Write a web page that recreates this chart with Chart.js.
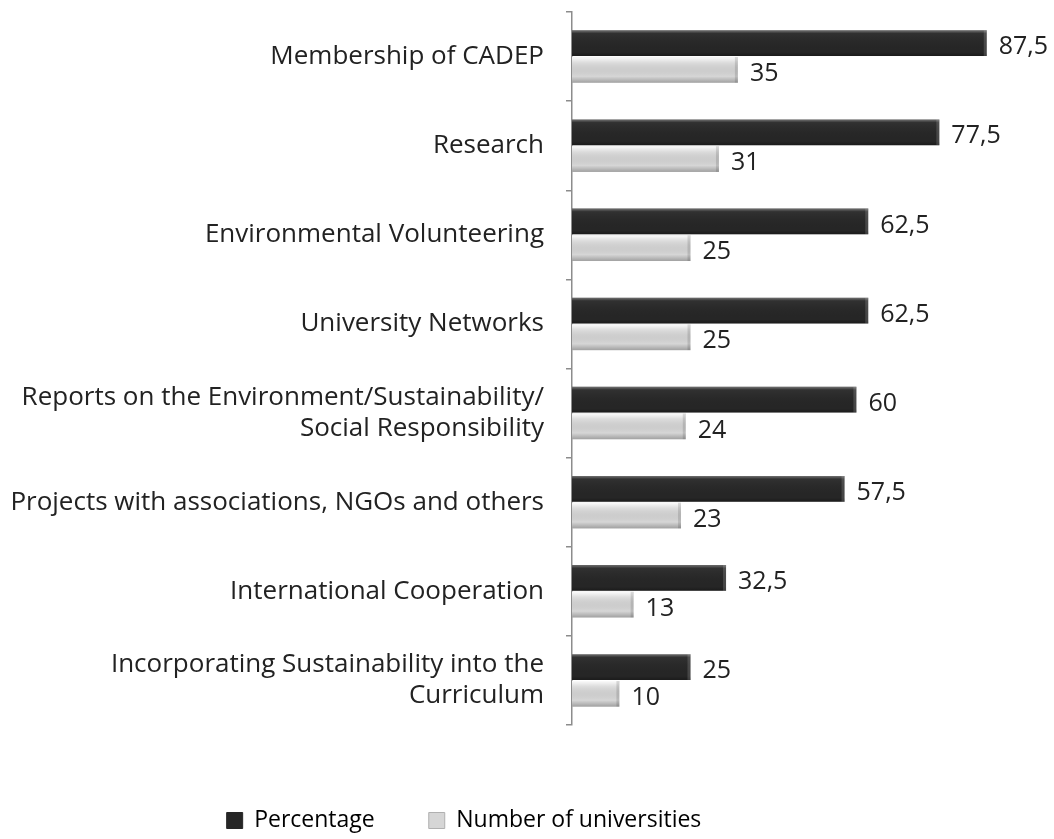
<!DOCTYPE html>
<html>
<head>
<meta charset="utf-8">
<script src="https://cdn.jsdelivr.net/npm/chart.js@4/dist/chart.umd.min.js"></script>
<style>
  html, body { margin: 0; padding: 0; background: #fff; }
  #wrap { width: 1054px; height: 839px; }
</style>
</head>
<body>
<div id="wrap"><canvas id="barChart"></canvas></div>
<script>
// categories (top to bottom)
const categories = [
  'Membership of CADEP',
  'Research',
  'Environmental Volunteering',
  'University Networks',
  ['Reports on the Environment/Sustainability/', 'Social Responsibility'],
  'Projects with associations, NGOs and others',
  'International Cooperation',
  ['Incorporating Sustainability into the', 'Curriculum']
];
const percentage = [87.5, 77.5, 62.5, 62.5, 60, 57.5, 32.5, 25];
const universities = [35, 31, 25, 25, 24, 23, 13, 10];

const FONT = '"Open Sans", sans-serif';

// shading on top of each bar so it looks bevelled
const bevel = {
  id: 'bevel',
  afterDatasetsDraw(chart) {
    const ctx = chart.ctx;
    chart.data.datasets.forEach((ds, i) => {
      chart.getDatasetMeta(i).data.forEach(bar => {
        const top = bar.y - bar.height / 2, h = bar.height;
        const left = bar.base, w = bar.x - bar.base;
        const g = ctx.createLinearGradient(0, top, 0, top + h);
        if (i === 0) {
          g.addColorStop(0, 'rgba(255,255,255,0.35)');
          g.addColorStop(0.12, 'rgba(255,255,255,0.05)');
          g.addColorStop(0.85, 'rgba(0,0,0,0)');
          g.addColorStop(1, 'rgba(0,0,0,0.3)');
        } else {
          g.addColorStop(0, 'rgba(255,255,255,0.9)');
          g.addColorStop(0.2, 'rgba(255,255,255,0.2)');
          g.addColorStop(0.75, 'rgba(0,0,0,0)');
          g.addColorStop(1, 'rgba(0,0,0,0.25)');
        }
        ctx.save();
        ctx.fillStyle = g;
        ctx.fillRect(left, top, w, h);
        // right end edge
        ctx.fillStyle = i === 0 ? 'rgba(255,255,255,0.15)' : 'rgba(0,0,0,0.12)';
        ctx.fillRect(bar.x - 3, top, 3, h);
        ctx.restore();
      });
    });
  }
};

// value labels with a decimal comma
const valueLabels = {
  id: 'valueLabels',
  afterDatasetsDraw(chart) {
    const ctx = chart.ctx;
    ctx.save();
    ctx.font = '25px ' + FONT;
    ctx.fillStyle = '#222';
    ctx.textBaseline = 'middle';
    chart.data.datasets.forEach((ds, i) => {
      chart.getDatasetMeta(i).data.forEach((bar, j) => {
        const txt = String(ds.data[j]).replace('.', ',');
        ctx.fillText(txt, bar.x + 12, bar.y + 4);
      });
    });
    ctx.restore();
  }
};

// legend sits a little left of centre and lower
const legendShift = {
  id: 'legendShift',
  afterLayout(chart) {
    const lg = chart.legend;
    lg.left -= 59; lg.right -= 59;
    lg.top += 7; lg.bottom += 7;
  }
};

const chart = new Chart(document.getElementById('barChart'), {
  type: 'bar',
  data: {
    labels: categories,
    datasets: [
      {
        label: 'Percentage',
        data: percentage,
        backgroundColor: '#262626',
        borderWidth: 0
      },
      {
        label: 'Number of universities',
        data: universities,
        backgroundColor: '#d6d6d6',
        borderWidth: 0
      }
    ]
  },
  options: {
    indexAxis: 'y',
    responsive: true,
    maintainAspectRatio: false,
    animation: false,
    layout: { padding: { top: 12, right: 8, left: 0, bottom: 4 } },
    datasets: {
      bar: { categoryPercentage: 0.6, barPercentage: 0.96 }
    },
    scales: {
      x: {
        min: 0,
        max: 100,
        grid: { display: false },
        border: { display: false },
        ticks: { display: false },
        afterFit(s) { s.height = 23; }
      },
      y: {
        grid: {
          offset: true,
          drawOnChartArea: false,
          tickLength: 6,
          color: '#8c8c8c',
          lineWidth: 1.5
        },
        border: { color: '#8c8c8c', width: 1.5 },
        ticks: {
          color: '#222',
          padding: 22,
          font: { family: FONT, size: 26 }
        },
        afterFit(s) {
          s.width = 572;
          s.paddingTop = 0;
          s.paddingBottom = 0;
        }
      }
    },
    plugins: {
      legend: {
        position: 'bottom',
        labels: {
          color: '#222',
          boxWidth: 16,
          boxHeight: 16,
          padding: 54,
          font: { family: FONT, size: 23 },
          generateLabels(c) {
            return c.data.datasets.map((d, i) => ({
              text: d.label,
              fillStyle: i === 0 ? '#262626' : '#d6d6d6',
              strokeStyle: i === 0 ? '#262626' : '#b0b0b0',
              lineWidth: 1,
              datasetIndex: i
            }));
          }
        }
      },
      tooltip: { enabled: false }
    }
  },
  plugins: [bevel, valueLabels, legendShift]
});
</script>
</body>
</html>
